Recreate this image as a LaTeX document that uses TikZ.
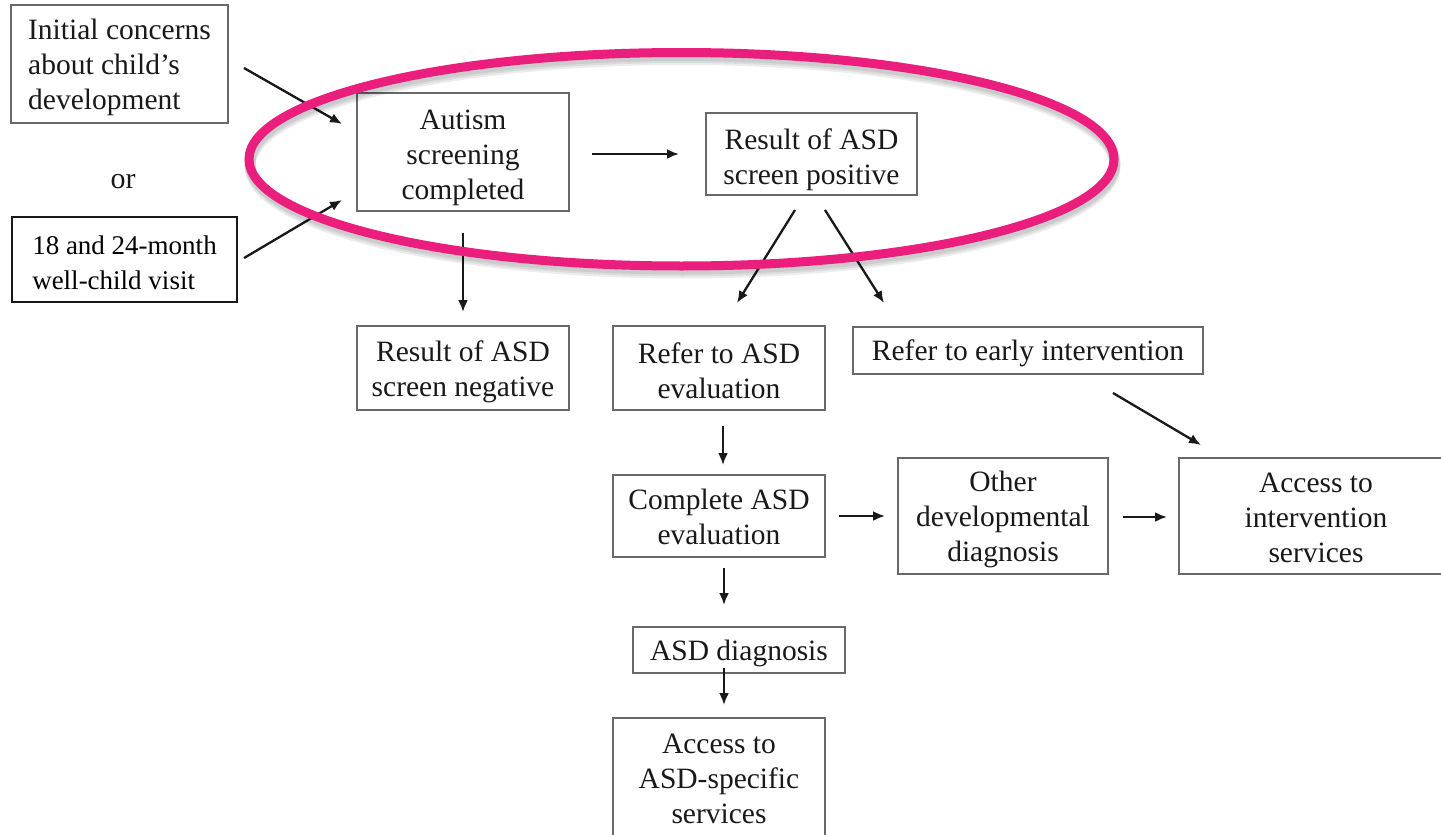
\documentclass[tikz,border=0pt]{standalone}
\usepackage{fontspec}
\setmainfont{Liberation Serif}
\usetikzlibrary{calc,arrows.meta}
\definecolor{ringpink}{RGB}{236,30,125}
\definecolor{boxgray}{RGB}{105,105,105}
\tikzset{
  box/.style={draw=boxgray, line width=2pt, fill=white, inner sep=0pt},
  lbl/.style={align=center, inner sep=0pt, font=\fontsize{29.5}{35}\selectfont, text=black!90},
  % box text placed at the box centre, dropped by #2 points
  txt/.style 2 args={label={[lbl, yshift=-#2pt]center:#1}},
  txtl/.style 2 args={label={[lbl, align=left, yshift=-#2pt]center:#1}},
  flow/.style={line width=2.3pt, -{Latex[length=12pt,width=10pt]}, black!90},
  ring/.style={draw=ringpink, line width=9pt},
  ringshadow/.style={draw=black, line width=11pt, opacity=0.07}
}
\begin{document}
\begin{tikzpicture}[x=1pt,y=-1pt]
\useasboundingbox (0,0) rectangle (1441,835);
\clip (0,0) rectangle (1441,835);
\fill[white] (0,0) rectangle (1441,835);

% entry points
\node[box, minimum width=217pt, minimum height=118pt,
  txtl={{Initial concerns\\about child's\\development}}{3}] (init) at (119.5,64) {};
\node[lbl, font=\fontsize{30}{35}\selectfont] (or) at (123,182) {or};
\node[box, draw=black!90, line width=2.2pt, minimum width=225pt, minimum height=85pt,
  label={[lbl, align=left, text=black, font=\fontsize{27}{35}\selectfont, yshift=-3pt]center:{18 and 24-month\\well-child visit}}]
  (visit) at (124.5,259.5) {};

% screening
\node[box, minimum width=212pt, minimum height=118pt,
  txt={{Autism\\screening\\completed}}{6}] (auto) at (463,152) {};
\node[box, minimum width=211pt, minimum height=82pt,
  txt={{Result of ASD\\screen positive}}{6}] (pos) at (811.5,154) {};
\node[box, minimum width=212pt, minimum height=84pt,
  txt={{Result of ASD\\screen negative}}{4}] (neg) at (463,368) {};

% referrals
\node[box, minimum width=212pt, minimum height=84pt,
  txt={{Refer to ASD\\evaluation}}{3}] (refasd) at (719,368) {};
\node[box, minimum width=350pt, minimum height=47pt,
  txt={{Refer to early intervention}}{3}] (early) at (1028,350.5) {};

% evaluation and outcomes
\node[box, minimum width=212pt, minimum height=82pt,
  txt={{Complete ASD\\evaluation}}{0.5}] (complete) at (719,516) {};
\node[box, minimum width=210pt, minimum height=116pt,
  txt={{Other\\developmental\\diagnosis}}{3}] (other) at (1003,516) {};
\node[box, minimum width=274pt, minimum height=116pt,
  txt={{Access to\\intervention\\services}}{2}] (access) at (1316,516) {};
\node[box, minimum width=212pt, minimum height=46pt,
  txt={{ASD diagnosis}}{3}] (diag) at (739,650) {};
\node[box, minimum width=212pt, minimum height=120pt,
  txt={{Access to\\ASD-specific\\services}}{1}] (svc) at (719,778) {};

% connectors
\draw[flow] ($(init.east)+(15,4)$) -- ($(auto.west)+(-14,-28)$);
\draw[flow] ($(visit.east)+(6,-1.5)$) -- ($(auto.west)+(-14,48)$);
\draw[flow] ($(auto.east)+(22,2)$) -- ($(pos.west)+(-26,0)$);
\draw[flow] ($(auto.south)+(0,21)$) -- ($(neg.north)+(0,-13)$);
\draw[flow] ($(pos.south)+(-16.5,14)$) -- ($(refasd.north)+(18,-22)$);
\draw[flow] ($(pos.south)+(13.5,14)$) -- ($(early.north west)+(32,-23)$);
\draw[flow] ($(refasd.south)+(4,15)$) -- ($(complete.north)+(4,-9)$);
\draw[flow] ($(complete.east)+(13,0)$) -- ($(other.west)+(-12,0)$);
\draw[flow] ($(other.east)+(14,1)$) -- ($(access.west)+(-11,1)$);
\draw[flow] ($(early.south)+(85,18)$) -- ($(access.north west)+(23,-12)$);
\draw[flow] ($(complete.south)+(5,10)$) -- ($(diag.north)+(-15,-21)$);
\draw[flow] ($(diag.south)+(-15,-6)$) -- ($(svc.north)+(5,-12)$);

% highlight ring with soft drop shadow
\foreach \d in {3,5,7}{
  \draw[ringshadow] ($(681.5,159.25)+(1,\d)$) ellipse [x radius=432.5pt, y radius=106.75pt];
}
\draw[ring] (681.5,159.25) ellipse [x radius=432.5pt, y radius=106.75pt];
\end{tikzpicture}
\end{document}
